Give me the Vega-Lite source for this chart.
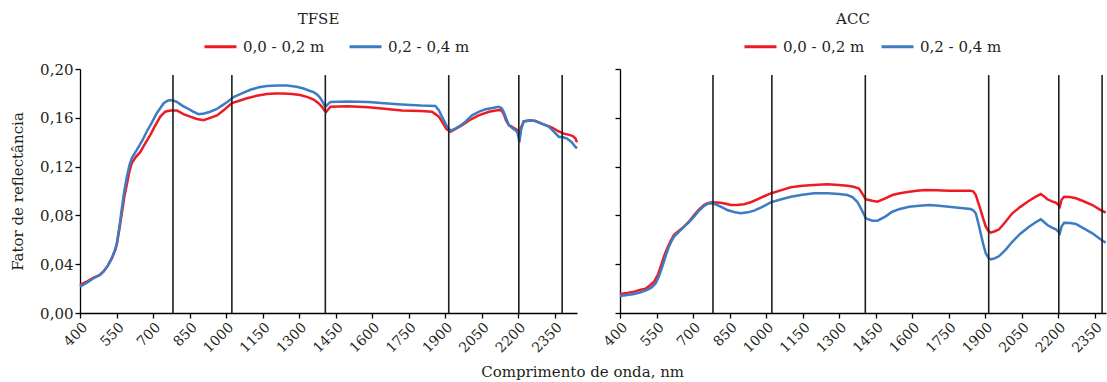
{
"$schema": "https://vega.github.io/schema/vega-lite/v6.json",
"padding": {"left": 10, "top": 12, "right": 0, "bottom": 0},
"background": "white",
"config": {
  "view": {"stroke": null},
  "font": "DejaVu Serif",
  "title": {"font": "DejaVu Serif", "fontSize": 15, "fontWeight": "normal", "color": "#231f20"},
  "axis": {"labelFont": "DejaVu Serif", "titleFont": "DejaVu Serif", "labelColor": "#231f20", "titleColor": "#231f20", "domainColor": "#000000", "tickColor": "#000000", "domainWidth": 1.3, "tickWidth": 1.3, "tickSize": 5, "grid": false, "titleFontWeight": "normal", "labelOverlap": false, "labelFlush": false},
  "legend": {"labelFont": "DejaVu Serif", "labelColor": "#231f20"}
},
"title": {"text": "Comprimento de onda, nm", "orient": "bottom", "anchor": "middle", "offset": 10, "dx": 22},
"spacing": 19,
"resolve": {"scale": {"color": "independent", "x": "independent", "y": "independent"}, "legend": {"color": "independent"}},
"datasets": {
  "rules": [{"nm": 782}, {"nm": 1024}, {"nm": 1408}, {"nm": 1915}, {"nm": 2203}, {"nm": 2381}],
  "curves": [
    {"p":"TFSE","s":"0,0 - 0,2 m","nm":400,"r":0.023},{"p":"TFSE","s":"0,0 - 0,2 m","nm":430,"r":0.026},{"p":"TFSE","s":"0,0 - 0,2 m","nm":456,"r":0.029},{"p":"TFSE","s":"0,0 - 0,2 m","nm":480,"r":0.031},{"p":"TFSE","s":"0,0 - 0,2 m","nm":497,"r":0.034},{"p":"TFSE","s":"0,0 - 0,2 m","nm":515,"r":0.039},{"p":"TFSE","s":"0,0 - 0,2 m","nm":531,"r":0.045},{"p":"TFSE","s":"0,0 - 0,2 m","nm":545,"r":0.052},{"p":"TFSE","s":"0,0 - 0,2 m","nm":552,"r":0.057},{"p":"TFSE","s":"0,0 - 0,2 m","nm":562,"r":0.069},{"p":"TFSE","s":"0,0 - 0,2 m","nm":572,"r":0.082},{"p":"TFSE","s":"0,0 - 0,2 m","nm":582,"r":0.095},{"p":"TFSE","s":"0,0 - 0,2 m","nm":593,"r":0.106},{"p":"TFSE","s":"0,0 - 0,2 m","nm":603,"r":0.116},{"p":"TFSE","s":"0,0 - 0,2 m","nm":613,"r":0.123},{"p":"TFSE","s":"0,0 - 0,2 m","nm":630,"r":0.128},{"p":"TFSE","s":"0,0 - 0,2 m","nm":648,"r":0.132},{"p":"TFSE","s":"0,0 - 0,2 m","nm":668,"r":0.139},{"p":"TFSE","s":"0,0 - 0,2 m","nm":689,"r":0.146},{"p":"TFSE","s":"0,0 - 0,2 m","nm":710,"r":0.154},{"p":"TFSE","s":"0,0 - 0,2 m","nm":730,"r":0.161},{"p":"TFSE","s":"0,0 - 0,2 m","nm":750,"r":0.165},{"p":"TFSE","s":"0,0 - 0,2 m","nm":771,"r":0.166},{"p":"TFSE","s":"0,0 - 0,2 m","nm":798,"r":0.166},{"p":"TFSE","s":"0,0 - 0,2 m","nm":825,"r":0.163},{"p":"TFSE","s":"0,0 - 0,2 m","nm":853,"r":0.161},{"p":"TFSE","s":"0,0 - 0,2 m","nm":880,"r":0.159},{"p":"TFSE","s":"0,0 - 0,2 m","nm":908,"r":0.158},{"p":"TFSE","s":"0,0 - 0,2 m","nm":935,"r":0.16},{"p":"TFSE","s":"0,0 - 0,2 m","nm":963,"r":0.162},{"p":"TFSE","s":"0,0 - 0,2 m","nm":995,"r":0.167},{"p":"TFSE","s":"0,0 - 0,2 m","nm":1024,"r":0.172},{"p":"TFSE","s":"0,0 - 0,2 m","nm":1055,"r":0.174},{"p":"TFSE","s":"0,0 - 0,2 m","nm":1086,"r":0.176},{"p":"TFSE","s":"0,0 - 0,2 m","nm":1125,"r":0.178},{"p":"TFSE","s":"0,0 - 0,2 m","nm":1168,"r":0.1795},{"p":"TFSE","s":"0,0 - 0,2 m","nm":1200,"r":0.18},{"p":"TFSE","s":"0,0 - 0,2 m","nm":1237,"r":0.18},{"p":"TFSE","s":"0,0 - 0,2 m","nm":1270,"r":0.1795},{"p":"TFSE","s":"0,0 - 0,2 m","nm":1305,"r":0.1787},{"p":"TFSE","s":"0,0 - 0,2 m","nm":1335,"r":0.177},{"p":"TFSE","s":"0,0 - 0,2 m","nm":1360,"r":0.175},{"p":"TFSE","s":"0,0 - 0,2 m","nm":1380,"r":0.172},{"p":"TFSE","s":"0,0 - 0,2 m","nm":1394,"r":0.169},{"p":"TFSE","s":"0,0 - 0,2 m","nm":1405,"r":0.166},{"p":"TFSE","s":"0,0 - 0,2 m","nm":1412,"r":0.165},{"p":"TFSE","s":"0,0 - 0,2 m","nm":1420,"r":0.167},{"p":"TFSE","s":"0,0 - 0,2 m","nm":1429,"r":0.169},{"p":"TFSE","s":"0,0 - 0,2 m","nm":1500,"r":0.1695},{"p":"TFSE","s":"0,0 - 0,2 m","nm":1586,"r":0.1686},{"p":"TFSE","s":"0,0 - 0,2 m","nm":1650,"r":0.1675},{"p":"TFSE","s":"0,0 - 0,2 m","nm":1723,"r":0.166},{"p":"TFSE","s":"0,0 - 0,2 m","nm":1800,"r":0.1655},{"p":"TFSE","s":"0,0 - 0,2 m","nm":1846,"r":0.165},{"p":"TFSE","s":"0,0 - 0,2 m","nm":1860,"r":0.163},{"p":"TFSE","s":"0,0 - 0,2 m","nm":1874,"r":0.161},{"p":"TFSE","s":"0,0 - 0,2 m","nm":1890,"r":0.156},{"p":"TFSE","s":"0,0 - 0,2 m","nm":1905,"r":0.151},{"p":"TFSE","s":"0,0 - 0,2 m","nm":1922,"r":0.1486},{"p":"TFSE","s":"0,0 - 0,2 m","nm":1945,"r":0.151},{"p":"TFSE","s":"0,0 - 0,2 m","nm":1970,"r":0.154},{"p":"TFSE","s":"0,0 - 0,2 m","nm":2000,"r":0.158},{"p":"TFSE","s":"0,0 - 0,2 m","nm":2038,"r":0.162},{"p":"TFSE","s":"0,0 - 0,2 m","nm":2080,"r":0.165},{"p":"TFSE","s":"0,0 - 0,2 m","nm":2120,"r":0.1664},{"p":"TFSE","s":"0,0 - 0,2 m","nm":2132,"r":0.166},{"p":"TFSE","s":"0,0 - 0,2 m","nm":2141,"r":0.163},{"p":"TFSE","s":"0,0 - 0,2 m","nm":2150,"r":0.158},{"p":"TFSE","s":"0,0 - 0,2 m","nm":2162,"r":0.154},{"p":"TFSE","s":"0,0 - 0,2 m","nm":2180,"r":0.152},{"p":"TFSE","s":"0,0 - 0,2 m","nm":2196,"r":0.15},{"p":"TFSE","s":"0,0 - 0,2 m","nm":2201,"r":0.147},{"p":"TFSE","s":"0,0 - 0,2 m","nm":2205,"r":0.143},{"p":"TFSE","s":"0,0 - 0,2 m","nm":2212,"r":0.152},{"p":"TFSE","s":"0,0 - 0,2 m","nm":2223,"r":0.157},{"p":"TFSE","s":"0,0 - 0,2 m","nm":2250,"r":0.158},{"p":"TFSE","s":"0,0 - 0,2 m","nm":2271,"r":0.1574},{"p":"TFSE","s":"0,0 - 0,2 m","nm":2300,"r":0.155},{"p":"TFSE","s":"0,0 - 0,2 m","nm":2340,"r":0.152},{"p":"TFSE","s":"0,0 - 0,2 m","nm":2365,"r":0.149},{"p":"TFSE","s":"0,0 - 0,2 m","nm":2388,"r":0.147},{"p":"TFSE","s":"0,0 - 0,2 m","nm":2410,"r":0.146},{"p":"TFSE","s":"0,0 - 0,2 m","nm":2425,"r":0.145},{"p":"TFSE","s":"0,0 - 0,2 m","nm":2436,"r":0.143},{"p":"TFSE","s":"0,0 - 0,2 m","nm":2442,"r":0.14},
    {"p":"TFSE","s":"0,2 - 0,4 m","nm":400,"r":0.0216},{"p":"TFSE","s":"0,2 - 0,4 m","nm":430,"r":0.025},{"p":"TFSE","s":"0,2 - 0,4 m","nm":456,"r":0.0285},{"p":"TFSE","s":"0,2 - 0,4 m","nm":480,"r":0.031},{"p":"TFSE","s":"0,2 - 0,4 m","nm":497,"r":0.034},{"p":"TFSE","s":"0,2 - 0,4 m","nm":515,"r":0.039},{"p":"TFSE","s":"0,2 - 0,4 m","nm":531,"r":0.045},{"p":"TFSE","s":"0,2 - 0,4 m","nm":545,"r":0.052},{"p":"TFSE","s":"0,2 - 0,4 m","nm":552,"r":0.058},{"p":"TFSE","s":"0,2 - 0,4 m","nm":562,"r":0.071},{"p":"TFSE","s":"0,2 - 0,4 m","nm":572,"r":0.086},{"p":"TFSE","s":"0,2 - 0,4 m","nm":582,"r":0.1},{"p":"TFSE","s":"0,2 - 0,4 m","nm":593,"r":0.112},{"p":"TFSE","s":"0,2 - 0,4 m","nm":603,"r":0.121},{"p":"TFSE","s":"0,2 - 0,4 m","nm":613,"r":0.127},{"p":"TFSE","s":"0,2 - 0,4 m","nm":634,"r":0.134},{"p":"TFSE","s":"0,2 - 0,4 m","nm":655,"r":0.141},{"p":"TFSE","s":"0,2 - 0,4 m","nm":675,"r":0.149},{"p":"TFSE","s":"0,2 - 0,4 m","nm":695,"r":0.156},{"p":"TFSE","s":"0,2 - 0,4 m","nm":716,"r":0.164},{"p":"TFSE","s":"0,2 - 0,4 m","nm":744,"r":0.172},{"p":"TFSE","s":"0,2 - 0,4 m","nm":760,"r":0.174},{"p":"TFSE","s":"0,2 - 0,4 m","nm":771,"r":0.1746},{"p":"TFSE","s":"0,2 - 0,4 m","nm":785,"r":0.174},{"p":"TFSE","s":"0,2 - 0,4 m","nm":798,"r":0.173},{"p":"TFSE","s":"0,2 - 0,4 m","nm":820,"r":0.17},{"p":"TFSE","s":"0,2 - 0,4 m","nm":839,"r":0.168},{"p":"TFSE","s":"0,2 - 0,4 m","nm":865,"r":0.165},{"p":"TFSE","s":"0,2 - 0,4 m","nm":887,"r":0.163},{"p":"TFSE","s":"0,2 - 0,4 m","nm":910,"r":0.1635},{"p":"TFSE","s":"0,2 - 0,4 m","nm":935,"r":0.165},{"p":"TFSE","s":"0,2 - 0,4 m","nm":960,"r":0.167},{"p":"TFSE","s":"0,2 - 0,4 m","nm":983,"r":0.17},{"p":"TFSE","s":"0,2 - 0,4 m","nm":1005,"r":0.173},{"p":"TFSE","s":"0,2 - 0,4 m","nm":1031,"r":0.177},{"p":"TFSE","s":"0,2 - 0,4 m","nm":1065,"r":0.18},{"p":"TFSE","s":"0,2 - 0,4 m","nm":1100,"r":0.183},{"p":"TFSE","s":"0,2 - 0,4 m","nm":1135,"r":0.185},{"p":"TFSE","s":"0,2 - 0,4 m","nm":1168,"r":0.186},{"p":"TFSE","s":"0,2 - 0,4 m","nm":1210,"r":0.1865},{"p":"TFSE","s":"0,2 - 0,4 m","nm":1250,"r":0.1864},{"p":"TFSE","s":"0,2 - 0,4 m","nm":1290,"r":0.1855},{"p":"TFSE","s":"0,2 - 0,4 m","nm":1319,"r":0.184},{"p":"TFSE","s":"0,2 - 0,4 m","nm":1345,"r":0.182},{"p":"TFSE","s":"0,2 - 0,4 m","nm":1360,"r":0.181},{"p":"TFSE","s":"0,2 - 0,4 m","nm":1375,"r":0.179},{"p":"TFSE","s":"0,2 - 0,4 m","nm":1388,"r":0.176},{"p":"TFSE","s":"0,2 - 0,4 m","nm":1400,"r":0.172},{"p":"TFSE","s":"0,2 - 0,4 m","nm":1408,"r":0.169},{"p":"TFSE","s":"0,2 - 0,4 m","nm":1418,"r":0.171},{"p":"TFSE","s":"0,2 - 0,4 m","nm":1429,"r":0.173},{"p":"TFSE","s":"0,2 - 0,4 m","nm":1500,"r":0.1733},{"p":"TFSE","s":"0,2 - 0,4 m","nm":1586,"r":0.173},{"p":"TFSE","s":"0,2 - 0,4 m","nm":1650,"r":0.172},{"p":"TFSE","s":"0,2 - 0,4 m","nm":1723,"r":0.171},{"p":"TFSE","s":"0,2 - 0,4 m","nm":1800,"r":0.17},{"p":"TFSE","s":"0,2 - 0,4 m","nm":1860,"r":0.1697},{"p":"TFSE","s":"0,2 - 0,4 m","nm":1875,"r":0.166},{"p":"TFSE","s":"0,2 - 0,4 m","nm":1887,"r":0.161},{"p":"TFSE","s":"0,2 - 0,4 m","nm":1905,"r":0.154},{"p":"TFSE","s":"0,2 - 0,4 m","nm":1922,"r":0.1494},{"p":"TFSE","s":"0,2 - 0,4 m","nm":1940,"r":0.151},{"p":"TFSE","s":"0,2 - 0,4 m","nm":1956,"r":0.1527},{"p":"TFSE","s":"0,2 - 0,4 m","nm":1985,"r":0.157},{"p":"TFSE","s":"0,2 - 0,4 m","nm":2011,"r":0.162},{"p":"TFSE","s":"0,2 - 0,4 m","nm":2040,"r":0.165},{"p":"TFSE","s":"0,2 - 0,4 m","nm":2066,"r":0.167},{"p":"TFSE","s":"0,2 - 0,4 m","nm":2095,"r":0.168},{"p":"TFSE","s":"0,2 - 0,4 m","nm":2120,"r":0.169},{"p":"TFSE","s":"0,2 - 0,4 m","nm":2132,"r":0.168},{"p":"TFSE","s":"0,2 - 0,4 m","nm":2141,"r":0.165},{"p":"TFSE","s":"0,2 - 0,4 m","nm":2152,"r":0.159},{"p":"TFSE","s":"0,2 - 0,4 m","nm":2162,"r":0.154},{"p":"TFSE","s":"0,2 - 0,4 m","nm":2180,"r":0.151},{"p":"TFSE","s":"0,2 - 0,4 m","nm":2196,"r":0.1486},{"p":"TFSE","s":"0,2 - 0,4 m","nm":2202,"r":0.144},{"p":"TFSE","s":"0,2 - 0,4 m","nm":2205,"r":0.1396},{"p":"TFSE","s":"0,2 - 0,4 m","nm":2212,"r":0.15},{"p":"TFSE","s":"0,2 - 0,4 m","nm":2223,"r":0.157},{"p":"TFSE","s":"0,2 - 0,4 m","nm":2250,"r":0.158},{"p":"TFSE","s":"0,2 - 0,4 m","nm":2271,"r":0.1574},{"p":"TFSE","s":"0,2 - 0,4 m","nm":2300,"r":0.155},{"p":"TFSE","s":"0,2 - 0,4 m","nm":2326,"r":0.1527},{"p":"TFSE","s":"0,2 - 0,4 m","nm":2345,"r":0.149},{"p":"TFSE","s":"0,2 - 0,4 m","nm":2367,"r":0.1445},{"p":"TFSE","s":"0,2 - 0,4 m","nm":2385,"r":0.144},{"p":"TFSE","s":"0,2 - 0,4 m","nm":2401,"r":0.143},{"p":"TFSE","s":"0,2 - 0,4 m","nm":2420,"r":0.14},{"p":"TFSE","s":"0,2 - 0,4 m","nm":2436,"r":0.136},{"p":"TFSE","s":"0,2 - 0,4 m","nm":2442,"r":0.135},
    {"p":"ACC","s":"0,0 - 0,2 m","nm":400,"r":0.0156},{"p":"ACC","s":"0,0 - 0,2 m","nm":430,"r":0.0165},{"p":"ACC","s":"0,0 - 0,2 m","nm":458,"r":0.0175},{"p":"ACC","s":"0,0 - 0,2 m","nm":485,"r":0.019},{"p":"ACC","s":"0,0 - 0,2 m","nm":506,"r":0.02},{"p":"ACC","s":"0,0 - 0,2 m","nm":525,"r":0.023},{"p":"ACC","s":"0,0 - 0,2 m","nm":540,"r":0.0257},{"p":"ACC","s":"0,0 - 0,2 m","nm":555,"r":0.031},{"p":"ACC","s":"0,0 - 0,2 m","nm":567,"r":0.038},{"p":"ACC","s":"0,0 - 0,2 m","nm":580,"r":0.046},{"p":"ACC","s":"0,0 - 0,2 m","nm":594,"r":0.053},{"p":"ACC","s":"0,0 - 0,2 m","nm":608,"r":0.059},{"p":"ACC","s":"0,0 - 0,2 m","nm":622,"r":0.064},{"p":"ACC","s":"0,0 - 0,2 m","nm":642,"r":0.0675},{"p":"ACC","s":"0,0 - 0,2 m","nm":663,"r":0.0708},{"p":"ACC","s":"0,0 - 0,2 m","nm":684,"r":0.075},{"p":"ACC","s":"0,0 - 0,2 m","nm":704,"r":0.08},{"p":"ACC","s":"0,0 - 0,2 m","nm":725,"r":0.085},{"p":"ACC","s":"0,0 - 0,2 m","nm":745,"r":0.0885},{"p":"ACC","s":"0,0 - 0,2 m","nm":760,"r":0.09},{"p":"ACC","s":"0,0 - 0,2 m","nm":779,"r":0.0907},{"p":"ACC","s":"0,0 - 0,2 m","nm":814,"r":0.0904},{"p":"ACC","s":"0,0 - 0,2 m","nm":835,"r":0.0895},{"p":"ACC","s":"0,0 - 0,2 m","nm":855,"r":0.0885},{"p":"ACC","s":"0,0 - 0,2 m","nm":880,"r":0.0886},{"p":"ACC","s":"0,0 - 0,2 m","nm":910,"r":0.0891},{"p":"ACC","s":"0,0 - 0,2 m","nm":940,"r":0.091},{"p":"ACC","s":"0,0 - 0,2 m","nm":964,"r":0.0932},{"p":"ACC","s":"0,0 - 0,2 m","nm":990,"r":0.0955},{"p":"ACC","s":"0,0 - 0,2 m","nm":1019,"r":0.098},{"p":"ACC","s":"0,0 - 0,2 m","nm":1060,"r":0.1005},{"p":"ACC","s":"0,0 - 0,2 m","nm":1102,"r":0.103},{"p":"ACC","s":"0,0 - 0,2 m","nm":1150,"r":0.1043},{"p":"ACC","s":"0,0 - 0,2 m","nm":1197,"r":0.1049},{"p":"ACC","s":"0,0 - 0,2 m","nm":1252,"r":0.1055},{"p":"ACC","s":"0,0 - 0,2 m","nm":1300,"r":0.105},{"p":"ACC","s":"0,0 - 0,2 m","nm":1334,"r":0.1043},{"p":"ACC","s":"0,0 - 0,2 m","nm":1360,"r":0.1035},{"p":"ACC","s":"0,0 - 0,2 m","nm":1382,"r":0.102},{"p":"ACC","s":"0,0 - 0,2 m","nm":1395,"r":0.098},{"p":"ACC","s":"0,0 - 0,2 m","nm":1410,"r":0.0932},{"p":"ACC","s":"0,0 - 0,2 m","nm":1437,"r":0.092},{"p":"ACC","s":"0,0 - 0,2 m","nm":1458,"r":0.0912},{"p":"ACC","s":"0,0 - 0,2 m","nm":1490,"r":0.094},{"p":"ACC","s":"0,0 - 0,2 m","nm":1519,"r":0.0967},{"p":"ACC","s":"0,0 - 0,2 m","nm":1550,"r":0.0982},{"p":"ACC","s":"0,0 - 0,2 m","nm":1588,"r":0.0994},{"p":"ACC","s":"0,0 - 0,2 m","nm":1620,"r":0.1002},{"p":"ACC","s":"0,0 - 0,2 m","nm":1656,"r":0.1008},{"p":"ACC","s":"0,0 - 0,2 m","nm":1700,"r":0.1006},{"p":"ACC","s":"0,0 - 0,2 m","nm":1752,"r":0.1003},{"p":"ACC","s":"0,0 - 0,2 m","nm":1800,"r":0.1003},{"p":"ACC","s":"0,0 - 0,2 m","nm":1841,"r":0.1003},{"p":"ACC","s":"0,0 - 0,2 m","nm":1852,"r":0.0995},{"p":"ACC","s":"0,0 - 0,2 m","nm":1862,"r":0.0967},{"p":"ACC","s":"0,0 - 0,2 m","nm":1872,"r":0.0905},{"p":"ACC","s":"0,0 - 0,2 m","nm":1882,"r":0.0844},{"p":"ACC","s":"0,0 - 0,2 m","nm":1893,"r":0.077},{"p":"ACC","s":"0,0 - 0,2 m","nm":1903,"r":0.0708},{"p":"ACC","s":"0,0 - 0,2 m","nm":1915,"r":0.067},{"p":"ACC","s":"0,0 - 0,2 m","nm":1924,"r":0.0658},{"p":"ACC","s":"0,0 - 0,2 m","nm":1940,"r":0.067},{"p":"ACC","s":"0,0 - 0,2 m","nm":1958,"r":0.0686},{"p":"ACC","s":"0,0 - 0,2 m","nm":1985,"r":0.075},{"p":"ACC","s":"0,0 - 0,2 m","nm":2012,"r":0.0817},{"p":"ACC","s":"0,0 - 0,2 m","nm":2045,"r":0.087},{"p":"ACC","s":"0,0 - 0,2 m","nm":2081,"r":0.092},{"p":"ACC","s":"0,0 - 0,2 m","nm":2105,"r":0.095},{"p":"ACC","s":"0,0 - 0,2 m","nm":2129,"r":0.0975},{"p":"ACC","s":"0,0 - 0,2 m","nm":2140,"r":0.096},{"p":"ACC","s":"0,0 - 0,2 m","nm":2156,"r":0.0932},{"p":"ACC","s":"0,0 - 0,2 m","nm":2175,"r":0.0915},{"p":"ACC","s":"0,0 - 0,2 m","nm":2191,"r":0.0904},{"p":"ACC","s":"0,0 - 0,2 m","nm":2200,"r":0.089},{"p":"ACC","s":"0,0 - 0,2 m","nm":2207,"r":0.0871},{"p":"ACC","s":"0,0 - 0,2 m","nm":2215,"r":0.093},{"p":"ACC","s":"0,0 - 0,2 m","nm":2225,"r":0.0953},{"p":"ACC","s":"0,0 - 0,2 m","nm":2250,"r":0.095},{"p":"ACC","s":"0,0 - 0,2 m","nm":2273,"r":0.094},{"p":"ACC","s":"0,0 - 0,2 m","nm":2300,"r":0.092},{"p":"ACC","s":"0,0 - 0,2 m","nm":2341,"r":0.0885},{"p":"ACC","s":"0,0 - 0,2 m","nm":2370,"r":0.085},{"p":"ACC","s":"0,0 - 0,2 m","nm":2396,"r":0.0822},
    {"p":"ACC","s":"0,2 - 0,4 m","nm":400,"r":0.0139},{"p":"ACC","s":"0,2 - 0,4 m","nm":430,"r":0.0148},{"p":"ACC","s":"0,2 - 0,4 m","nm":458,"r":0.0156},{"p":"ACC","s":"0,2 - 0,4 m","nm":485,"r":0.017},{"p":"ACC","s":"0,2 - 0,4 m","nm":512,"r":0.0189},{"p":"ACC","s":"0,2 - 0,4 m","nm":530,"r":0.021},{"p":"ACC","s":"0,2 - 0,4 m","nm":547,"r":0.0243},{"p":"ACC","s":"0,2 - 0,4 m","nm":560,"r":0.03},{"p":"ACC","s":"0,2 - 0,4 m","nm":574,"r":0.038},{"p":"ACC","s":"0,2 - 0,4 m","nm":588,"r":0.047},{"p":"ACC","s":"0,2 - 0,4 m","nm":601,"r":0.0544},{"p":"ACC","s":"0,2 - 0,4 m","nm":612,"r":0.059},{"p":"ACC","s":"0,2 - 0,4 m","nm":622,"r":0.0626},{"p":"ACC","s":"0,2 - 0,4 m","nm":642,"r":0.0665},{"p":"ACC","s":"0,2 - 0,4 m","nm":663,"r":0.0708},{"p":"ACC","s":"0,2 - 0,4 m","nm":684,"r":0.0745},{"p":"ACC","s":"0,2 - 0,4 m","nm":704,"r":0.079},{"p":"ACC","s":"0,2 - 0,4 m","nm":725,"r":0.084},{"p":"ACC","s":"0,2 - 0,4 m","nm":745,"r":0.0877},{"p":"ACC","s":"0,2 - 0,4 m","nm":760,"r":0.0895},{"p":"ACC","s":"0,2 - 0,4 m","nm":773,"r":0.09},{"p":"ACC","s":"0,2 - 0,4 m","nm":787,"r":0.0895},{"p":"ACC","s":"0,2 - 0,4 m","nm":800,"r":0.0885},{"p":"ACC","s":"0,2 - 0,4 m","nm":820,"r":0.0865},{"p":"ACC","s":"0,2 - 0,4 m","nm":841,"r":0.0844},{"p":"ACC","s":"0,2 - 0,4 m","nm":868,"r":0.0828},{"p":"ACC","s":"0,2 - 0,4 m","nm":896,"r":0.0817},{"p":"ACC","s":"0,2 - 0,4 m","nm":925,"r":0.0825},{"p":"ACC","s":"0,2 - 0,4 m","nm":951,"r":0.0839},{"p":"ACC","s":"0,2 - 0,4 m","nm":985,"r":0.087},{"p":"ACC","s":"0,2 - 0,4 m","nm":1019,"r":0.0907},{"p":"ACC","s":"0,2 - 0,4 m","nm":1060,"r":0.093},{"p":"ACC","s":"0,2 - 0,4 m","nm":1102,"r":0.0953},{"p":"ACC","s":"0,2 - 0,4 m","nm":1150,"r":0.097},{"p":"ACC","s":"0,2 - 0,4 m","nm":1197,"r":0.0981},{"p":"ACC","s":"0,2 - 0,4 m","nm":1252,"r":0.0981},{"p":"ACC","s":"0,2 - 0,4 m","nm":1300,"r":0.0975},{"p":"ACC","s":"0,2 - 0,4 m","nm":1334,"r":0.0967},{"p":"ACC","s":"0,2 - 0,4 m","nm":1355,"r":0.095},{"p":"ACC","s":"0,2 - 0,4 m","nm":1375,"r":0.0912},{"p":"ACC","s":"0,2 - 0,4 m","nm":1392,"r":0.085},{"p":"ACC","s":"0,2 - 0,4 m","nm":1410,"r":0.0776},{"p":"ACC","s":"0,2 - 0,4 m","nm":1437,"r":0.0757},{"p":"ACC","s":"0,2 - 0,4 m","nm":1458,"r":0.0757},{"p":"ACC","s":"0,2 - 0,4 m","nm":1490,"r":0.079},{"p":"ACC","s":"0,2 - 0,4 m","nm":1519,"r":0.083},{"p":"ACC","s":"0,2 - 0,4 m","nm":1550,"r":0.0853},{"p":"ACC","s":"0,2 - 0,4 m","nm":1588,"r":0.0871},{"p":"ACC","s":"0,2 - 0,4 m","nm":1630,"r":0.088},{"p":"ACC","s":"0,2 - 0,4 m","nm":1670,"r":0.0885},{"p":"ACC","s":"0,2 - 0,4 m","nm":1710,"r":0.088},{"p":"ACC","s":"0,2 - 0,4 m","nm":1752,"r":0.0871},{"p":"ACC","s":"0,2 - 0,4 m","nm":1800,"r":0.086},{"p":"ACC","s":"0,2 - 0,4 m","nm":1841,"r":0.0852},{"p":"ACC","s":"0,2 - 0,4 m","nm":1852,"r":0.084},{"p":"ACC","s":"0,2 - 0,4 m","nm":1862,"r":0.0817},{"p":"ACC","s":"0,2 - 0,4 m","nm":1872,"r":0.074},{"p":"ACC","s":"0,2 - 0,4 m","nm":1882,"r":0.0653},{"p":"ACC","s":"0,2 - 0,4 m","nm":1893,"r":0.056},{"p":"ACC","s":"0,2 - 0,4 m","nm":1903,"r":0.0489},{"p":"ACC","s":"0,2 - 0,4 m","nm":1915,"r":0.045},{"p":"ACC","s":"0,2 - 0,4 m","nm":1924,"r":0.044},{"p":"ACC","s":"0,2 - 0,4 m","nm":1940,"r":0.0448},{"p":"ACC","s":"0,2 - 0,4 m","nm":1958,"r":0.0467},{"p":"ACC","s":"0,2 - 0,4 m","nm":1985,"r":0.052},{"p":"ACC","s":"0,2 - 0,4 m","nm":2012,"r":0.0584},{"p":"ACC","s":"0,2 - 0,4 m","nm":2045,"r":0.065},{"p":"ACC","s":"0,2 - 0,4 m","nm":2081,"r":0.0707},{"p":"ACC","s":"0,2 - 0,4 m","nm":2105,"r":0.074},{"p":"ACC","s":"0,2 - 0,4 m","nm":2129,"r":0.0768},{"p":"ACC","s":"0,2 - 0,4 m","nm":2140,"r":0.075},{"p":"ACC","s":"0,2 - 0,4 m","nm":2156,"r":0.0721},{"p":"ACC","s":"0,2 - 0,4 m","nm":2175,"r":0.07},{"p":"ACC","s":"0,2 - 0,4 m","nm":2191,"r":0.0686},{"p":"ACC","s":"0,2 - 0,4 m","nm":2200,"r":0.067},{"p":"ACC","s":"0,2 - 0,4 m","nm":2207,"r":0.0653},{"p":"ACC","s":"0,2 - 0,4 m","nm":2215,"r":0.071},{"p":"ACC","s":"0,2 - 0,4 m","nm":2225,"r":0.074},{"p":"ACC","s":"0,2 - 0,4 m","nm":2250,"r":0.0738},{"p":"ACC","s":"0,2 - 0,4 m","nm":2273,"r":0.073},{"p":"ACC","s":"0,2 - 0,4 m","nm":2300,"r":0.07},{"p":"ACC","s":"0,2 - 0,4 m","nm":2341,"r":0.0653},{"p":"ACC","s":"0,2 - 0,4 m","nm":2370,"r":0.061},{"p":"ACC","s":"0,2 - 0,4 m","nm":2396,"r":0.0576}
  ]
},
"hconcat": [
  {
    "width": 497, "height": 244,
    "title": {"text": "TFSE", "offset": 2, "dx": -10},
    "encoding": {
      "x": {"field": "nm", "type": "quantitative", "scale": {"domain": [400, 2442], "nice": false, "zero": false},
            "axis": {"values": [400,550,700,850,1000,1150,1300,1450,1600,1750,1900,2050,2200,2350], "format": "d", "labelAngle": -45, "labelFontSize": 14, "labelOverlap": false, "labelFlush": false, "labelBound": false, "title": null}}
    },
    "layer": [
      {
        "data": {"name": "curves"},
        "transform": [{"filter": "datum.p === 'TFSE'"}],
        "mark": {"type": "line", "strokeWidth": 2.5},
        "encoding": {
          "y": {"field": "r", "type": "quantitative", "scale": {"domain": [0, 0.2], "nice": false},
                "axis": {"values": [0,0.04,0.08,0.12,0.16,0.2], "labelExpr": "replace(format(datum.value, '.2f'), '.', ',')", "labelFontSize": 15, "labelOverlap": false, "title": "Fator de reflectância", "titleFontSize": 15, "titlePadding": 14}},
          "color": {"field": "s", "type": "nominal", "scale": {"domain": ["0,0 - 0,2 m", "0,2 - 0,4 m"], "range": ["#ED1C24", "#3D7CC5"]},
                    "legend": {"orient": "none", "legendX": 123, "legendY": -40, "direction": "horizontal", "title": null, "symbolType": "stroke", "symbolSize": 1024, "symbolStrokeWidth": 3, "labelFontSize": 15, "columnPadding": 18, "labelOffset": 5}}
        }
      },
      {
        "data": {"name": "rules"},
        "mark": {"type": "rule", "color": "#1e1e1e", "strokeWidth": 1.6},
        "encoding": {"y": {"datum": 0}, "y2": {"datum": 0.195}}
      }
    ]
  },
  {
    "width": 486, "height": 244,
    "title": {"text": "ACC", "offset": 2, "dx": -10},
    "encoding": {
      "x": {"field": "nm", "type": "quantitative", "scale": {"domain": [400, 2397], "nice": false, "zero": false},
            "axis": {"values": [400,550,700,850,1000,1150,1300,1450,1600,1750,1900,2050,2200,2350], "format": "d", "labelAngle": -45, "labelFontSize": 14, "labelOverlap": false, "labelFlush": false, "labelBound": false, "title": null}}
    },
    "layer": [
      {
        "data": {"name": "curves"},
        "transform": [{"filter": "datum.p === 'ACC'"}],
        "mark": {"type": "line", "strokeWidth": 2.5},
        "encoding": {
          "y": {"field": "r", "type": "quantitative", "scale": {"domain": [0, 0.2], "nice": false},
                "axis": {"values": [0,0.04,0.08,0.12,0.16,0.2], "labels": false, "title": null}},
          "color": {"field": "s", "type": "nominal", "scale": {"domain": ["0,0 - 0,2 m", "0,2 - 0,4 m"], "range": ["#ED1C24", "#3D7CC5"]},
                    "legend": {"orient": "none", "legendX": 123, "legendY": -40, "direction": "horizontal", "title": null, "symbolType": "stroke", "symbolSize": 1024, "symbolStrokeWidth": 3, "labelFontSize": 15, "columnPadding": 10, "labelOffset": 5}}
        }
      },
      {
        "data": {"name": "rules"},
        "mark": {"type": "rule", "color": "#1e1e1e", "strokeWidth": 1.6},
        "encoding": {"y": {"datum": 0}, "y2": {"datum": 0.195}}
      }
    ]
  }
]
}
